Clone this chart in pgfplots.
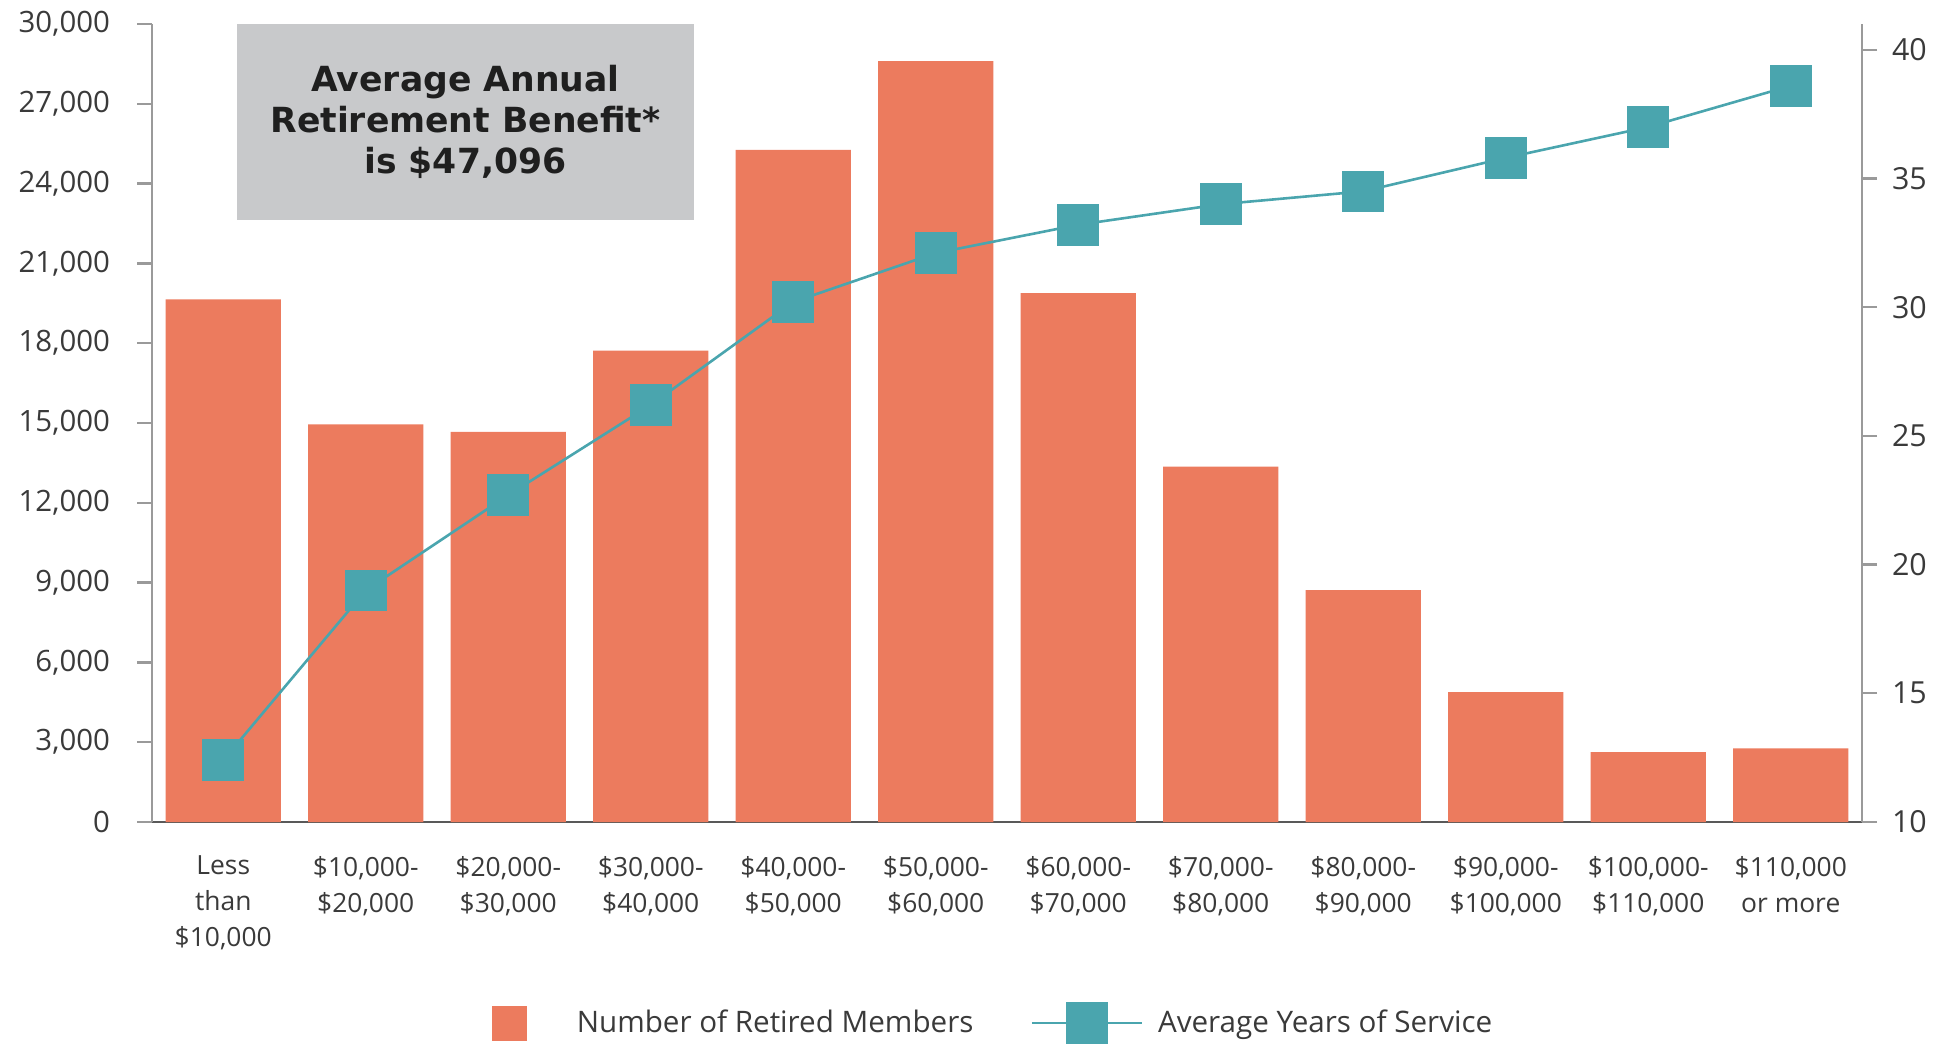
\documentclass[border=0pt]{standalone}
\usepackage{pgfplots}
\pgfplotsset{compat=1.18}
\usepackage{fontspec}
\setmainfont{Open Sans}
\newfontfamily\boxfont{DejaVu Sans}

\definecolor{barc}{HTML}{EC7B5E}
\definecolor{linec}{HTML}{4AA5AE}
\definecolor{boxc}{HTML}{C8C9CB}
\definecolor{axc}{HTML}{9A9A9A}
\definecolor{txt}{HTML}{3A3A3A}

\begin{document}
\begin{tikzpicture}
\path[use as bounding box] (-76pt,-111.5pt) rectangle (901pt,411pt);

% bars: number of retired members
\begin{axis}[
    at={(0,0)}, anchor=south west,
    scale only axis, width=855pt, height=399pt,
    xmin=-0.5, xmax=11.5,
    ymin=0, ymax=30000,
    axis y line*=left, axis x line*=bottom,
    ytick={0,3000,...,30000},
    scaled y ticks=false,
    /pgf/number format/1000 sep={,},
    /pgf/number format/assume math mode=true,
    xtick={0,...,11},
    xticklabels={{Less\\than\\\$10,000},{\$10,000-\\\$20,000},{\$20,000-\\\$30,000},
      {\$30,000-\\\$40,000},{\$40,000-\\\$50,000},{\$50,000-\\\$60,000},
      {\$60,000-\\\$70,000},{\$70,000-\\\$80,000},{\$80,000-\\\$90,000},
      {\$90,000-\\\$100,000},{\$100,000-\\\$110,000},{\$110,000\\or more}},
    xticklabel style={align=center, font=\fontsize{13.2}{18}\selectfont, text=txt, yshift=-6pt},
    yticklabel style={font=\fontsize{14.7}{16}\selectfont, text=txt, xshift=-10pt},
    x axis line style={draw=black!65, line width=1.4pt, -},
    y axis line style={draw=axc, line width=1.2pt, -},
    xtick style={draw=none},
    ytick style={draw=axc, line width=1.2pt},
    tick align=outside, major tick length=7.5pt,
]
\addplot[ybar, bar width=0.81, fill=barc, draw=none] coordinates {
    (0,19650) (1,14950) (2,14670) (3,17720) (4,25270) (5,28600)
    (6,19880) (7,13360) (8,8720) (9,4880) (10,2630) (11,2770)
};
\fill[boxc] (rel axis cs:0.0497,0.754) rectangle (rel axis cs:0.317,1.004);
\node[font=\boxfont\bfseries\fontsize{17.3}{20.5}\selectfont, text=black!88, align=center]
    at (rel axis cs:0.1833,0.877) {Average Annual\\Retirement Benefit*\\is \$47,096};
\end{axis}

% line: average years of service
\begin{axis}[
    at={(0,0)}, anchor=south west,
    scale only axis, width=855pt, height=399pt,
    xmin=-0.5, xmax=11.5,
    ymin=10, ymax=41,
    axis y line*=right, axis x line=none,
    ytick={10,15,...,40},
    /pgf/number format/assume math mode=true,
    yticklabel style={font=\fontsize{15.2}{16}\selectfont, text=txt, xshift=4pt},
    y axis line style={draw=axc, line width=1.2pt, -},
    ytick style={draw=axc, line width=1.2pt},
    tick align=outside, major tick length=7.5pt,
    legend columns=2,
    legend style={at={(0.1988,-0.252)}, anchor=west, draw=none, fill=none,
        inner sep=0pt, outer sep=0pt,
        font=\fontsize{14.8}{16}\selectfont, text=txt,
        nodes={inner sep=0pt, anchor=west},
        /tikz/column 1/.style={column sep=25pt},
        /tikz/column 2/.style={column sep=28.5pt},
        /tikz/column 3/.style={column sep=7.5pt}},
]
\addlegendimage{legend image code/.code={\fill[barc] (0pt,-8.5pt) rectangle (17pt,8.5pt);}}
\addlegendentry{Number of Retired Members}
\addplot[color=linec, line width=1.3pt, mark=square*, mark size=9.75pt,
    mark options={fill=linec, draw=none},
    legend image code/.code={
        \draw[linec, line width=1.3pt] (0pt,0pt) -- (55pt,0pt);
        \fill[linec] (17.75pt,-9.75pt) rectangle (37.25pt,9.75pt);}]
    coordinates {
    (0,12.4) (1,19.0) (2,22.7) (3,26.2) (4,30.2) (5,32.1)
    (6,33.2) (7,34.0) (8,34.5) (9,35.8) (10,37.0) (11,38.6)
};
\addlegendentry{Average Years of Service}
\end{axis}
\end{tikzpicture}
\end{document}
